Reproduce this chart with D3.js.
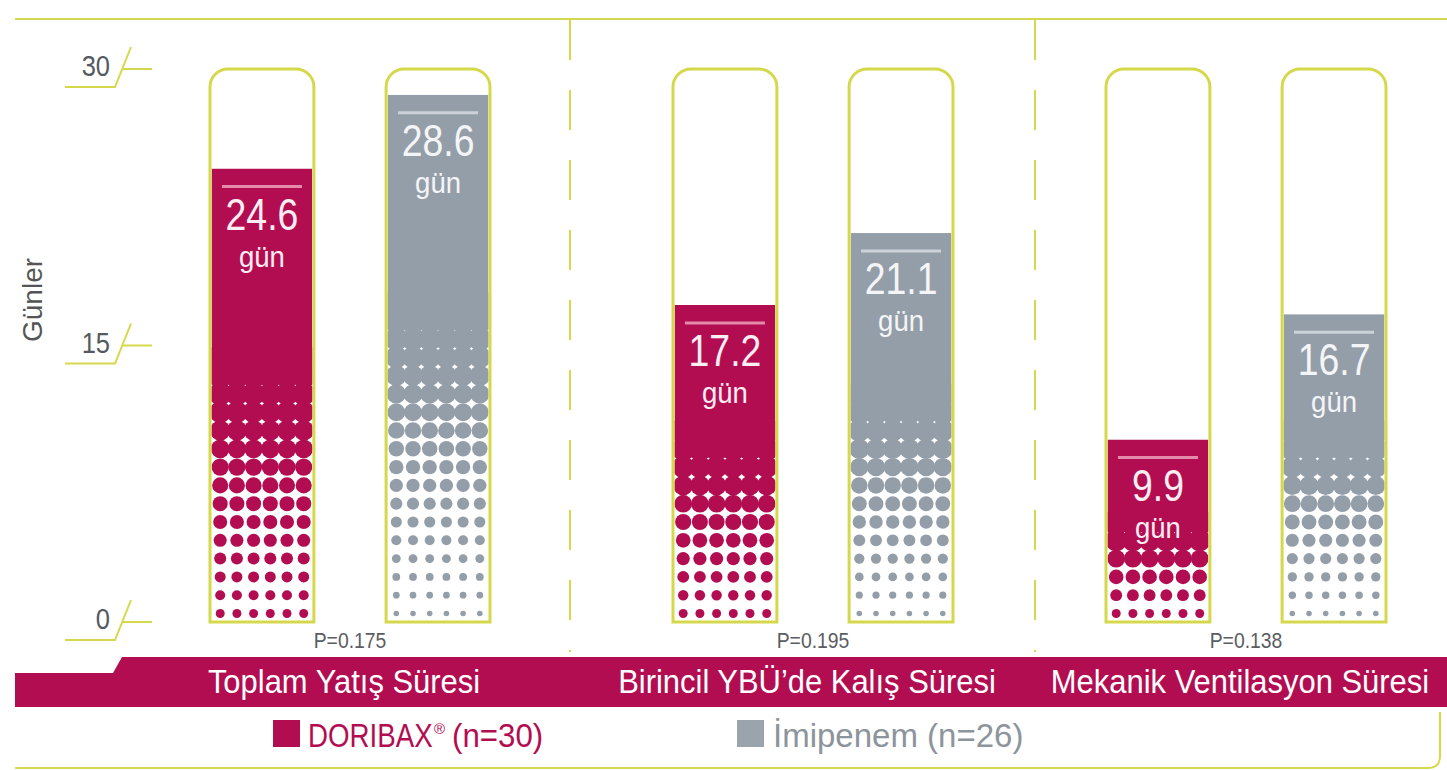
<!DOCTYPE html>
<html>
<head>
<meta charset="utf-8">
<script src="https://cdn.jsdelivr.net/npm/d3@7"></script>
<style>
  body { margin: 0; background: #fff; }
  text { font-family: "Liberation Sans", Arial, sans-serif; }
</style>
</head>
<body>
<svg id="chart" width="1447" height="770"></svg>
<script>
// data
var categories = ['Toplam Yatış Süresi', 'Birincil YBÜ’de Kalış Süresi', 'Mekanik Ventilasyon Süresi'];
var series = ['DORIBAX', 'İmipenem'];
var doribaxDays = [24.6, 17.2, 9.9];
var imipenemDays = [28.6, 21.1, 16.7];
var pValues = ['P=0.175', 'P=0.195', 'P=0.138'];
var yTicks = [0, 15, 30];
var legendCounts = ['(n=30)', '(n=26)'];
var unitLabel = 'gün';
var yTitle = 'Günler';

var MAG = '#b30d52', GRAY = '#949ea8', LIME = '#d6d84c';

var svg = d3.select('#chart');

var y = d3.scaleLinear().domain([0, 30]).range([622, 69]);
// group centres and separators (layout only)
var x0 = d3.scaleOrdinal().domain(categories).range([350, 813, 1246]);
var separators = [570, 1035];
var x1 = d3.scaleBand().domain(series).range([-140, 140]).paddingInner(0.41);

// little helper for horizontally squeezed text
function sText(g, x, yy, str, size, sx, fill, anchor){
  return g.append('text')
    .attr('transform', 'translate(' + x + ',' + yy + ') scale(' + sx + ',1)')
    .attr('font-size', size)
    .attr('fill', fill)
    .attr('text-anchor', anchor || 'middle')
    .text(str);
}

// frame
svg.append('line')
  .attr('x1', 15).attr('x2', 1447).attr('y1', 19).attr('y2', 19)
  .attr('stroke', LIME).attr('stroke-width', 2);
svg.append('path')
  .attr('d', 'M15,768 H1428 Q1440,768 1440,756 V712')
  .attr('fill', 'none').attr('stroke', LIME).attr('stroke-width', 2);

// dashed separators
separators.forEach(function(sx){
  svg.append('line')
    .attr('x1', sx).attr('x2', sx)
    .attr('y1', 20).attr('y2', 652)
    .attr('stroke', LIME).attr('stroke-width', 2)
    .attr('stroke-dasharray', '40,30');
});

// y axis ticks with the slash decoration
var axis = svg.append('g');
yTicks.forEach(function(t){
  var yy = y(t);
  axis.append('path')
    .attr('d', 'M65,' + (yy + 18) + ' H115 L131,' + (yy - 22))
    .attr('fill', 'none').attr('stroke', LIME).attr('stroke-width', 2);
  axis.append('line')
    .attr('x1', 123).attr('x2', 152).attr('y1', yy).attr('y2', yy)
    .attr('stroke', LIME).attr('stroke-width', 2);
  sText(axis, 110, yy + 7, t, 30, 0.85, '#555a60', 'end');
});

axis.append('text')
  .attr('transform', 'translate(42,300) rotate(-90)')
  .attr('font-size', 28)
  .attr('fill', '#555')
  .attr('text-anchor', 'middle')
  .text(yTitle);

// bars
var defs = svg.append('defs');
var pitchX = 16.7, pitchY = 18.3, bottom = y(0);

function tubePath(x, w, r){
  var top = y(30);
  return 'M' + x + ',' + bottom + ' V' + (top + r) +
    ' A' + r + ',' + r + ' 0 0 1 ' + (x + r) + ',' + top +
    ' H' + (x + w - r) +
    ' A' + r + ',' + r + ' 0 0 1 ' + (x + w) + ',' + (top + r) +
    ' V' + bottom + ' Z';
}

var bars = [];
categories.forEach(function(c, i){
  bars.push({cat: c, s: series[0], v: doribaxDays[i], color: MAG, r0: 4.5, knee: 0.55});
  bars.push({cat: c, s: series[1], v: imipenemDays[i], color: GRAY, r0: 2.8, knee: 0.6});
});

bars.forEach(function(d, k){
  var w = x1.bandwidth();
  var x = x0(d.cat) + x1(d.s);
  var cx = x + w / 2;
  var g = svg.append('g');

  g.append('path').attr('d', tubePath(x, w, 18)).attr('fill', '#fff');

  var fx = x + 1.5, fw = w - 3, fTop = y(d.v), fBot = bottom - 1.5;
  var id = 'clip' + k;
  defs.append('clipPath').attr('id', id)
    .append('rect').attr('x', fx).attr('y', fTop).attr('width', fw).attr('height', fBot - fTop);

  var fillG = g.append('g').attr('clip-path', 'url(#' + id + ')');
  var patH = (fBot - fTop) * 0.6;
  var nRows = Math.max(2, Math.ceil(patH / pitchY));
  var row0 = fBot - 7;
  var patTop = row0 - (nRows - 1) * pitchY - pitchY / 2;

  fillG.append('rect').attr('x', fx).attr('y', fTop).attr('width', fw).attr('height', patTop - fTop + 1)
    .attr('fill', d.color);
  fillG.append('rect').attr('x', fx).attr('y', patTop).attr('width', fw).attr('height', fBot - patTop)
    .attr('fill', '#fff');

  var dots = [];
  for (var r = 0; r < nRows; r++){
    var L = r / (nRows - 1);
    var rad = L < d.knee
      ? d.r0 + (8.4 - d.r0) * (L / d.knee)
      : 8.4 + (13 - 8.4) * ((L - d.knee) / (1 - d.knee));
    for (var j = 0; j < 6; j++){
      dots.push({x: cx + (j - 2.5) * pitchX, y: row0 - r * pitchY, r: rad});
    }
  }
  fillG.selectAll('circle').data(dots).enter().append('circle')
    .attr('cx', function(p){ return p.x; })
    .attr('cy', function(p){ return p.y; })
    .attr('r', function(p){ return p.r; })
    .attr('fill', d.color);

  g.append('path').attr('d', tubePath(x, w, 18))
    .attr('fill', 'none').attr('stroke', LIME).attr('stroke-width', 3);

  // value label
  var light = d.color === MAG ? '#e48aab' : '#cdd1d9';
  var txt = d.color === MAG ? '#fdeef4' : '#f4f5f7';
  g.append('line')
    .attr('x1', cx - 40).attr('x2', cx + 40)
    .attr('y1', fTop + 18).attr('y2', fTop + 18)
    .attr('stroke', light).attr('stroke-width', 3);
  sText(g, cx, fTop + 61, d.v.toFixed(1), 44, 0.85, txt);
  sText(g, cx, fTop + 98, unitLabel, 29, 0.95, txt);
});

// p values
categories.forEach(function(c, i){
  sText(svg, x0(c), 648, pValues[i], 22, 0.88, '#5a5d62');
});

// category band
svg.append('path')
  .attr('d', 'M15,673 H113 L122,657 H1447 V707 H15 Z')
  .attr('fill', MAG);
categories.forEach(function(c){
  sText(svg, x0(c) - 6, 693, c, 34, 0.91, '#fff');
});

// legend
var leg = svg.append('g');
leg.append('rect').attr('x', 273).attr('y', 720).attr('width', 27).attr('height', 27).attr('fill', MAG);
sText(leg, 308, 747, series[0], 33, 0.84, MAG, 'start');
leg.append('text').attr('x', 434).attr('y', 734).attr('font-size', 15).attr('fill', MAG).text('®');
sText(leg, 452, 747, legendCounts[0], 34, 0.92, MAG, 'start');

leg.append('rect').attr('x', 737).attr('y', 720).attr('width', 27).attr('height', 27).attr('fill', '#9ba4ac');
leg.append('text').attr('x', 773).attr('y', 747).attr('font-size', 33).attr('fill', '#8c949c')
  .text(series[1] + ' ' + legendCounts[1]);
</script>
</body>
</html>
